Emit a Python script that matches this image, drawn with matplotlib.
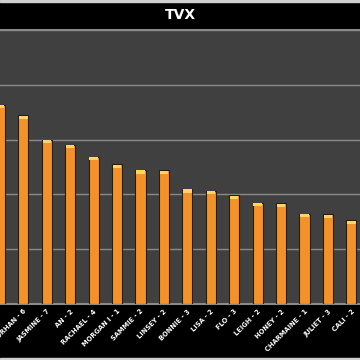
import numpy as np
import matplotlib.pyplot as plt
from matplotlib.patches import Rectangle

# datos (escala en unidades de rejilla x100)
names = ['', 'ORHAN - 6', 'JASMINE - 7', 'AN - 2', 'RACHAEL - 4', 'MORGAN I - 1',
         'SAMMIE - 2', 'LINSEY - 2', 'BONNIE - 3', 'LISA - 2', 'FLO - 3',
         'LEIGH - 2', 'HONEY - 2', 'CHARMAINE - 1', 'JULIET - 3', 'CALI - 2']
values = [364, 344, 300, 291, 269, 255, 245, 244, 210, 207, 198, 185, 184, 165, 164, 153]

fig = plt.figure(figsize=(3.6, 3.6), dpi=100)
fig.patch.set_facecolor('black')

# franjas claras arriba y abajo
fig.patches.append(Rectangle((0, 1 - 1.5/360), 1, 1.5/360, transform=fig.transFigure,
                             color='#d0d0d0', zorder=0))
fig.patches.append(Rectangle((0, 0), 1, 2/360, transform=fig.transFigure,
                             color='#d0d0d0', zorder=0))

ax = fig.add_axes([0, 56/360, 1, 274/360])
ax.set_facecolor('#404040')

x = np.arange(len(values))
ax.bar(x, values, width=0.43, color='#f4922a', edgecolor='#2a1c0a', linewidth=0.8, zorder=3)
# brillo en la parte de arriba
ax.bar(x, [6]*len(values), bottom=np.array(values) - 7, width=0.36,
       color='#ffd466', linewidth=0, zorder=4)

ax.set_xlim(0.0213, 15.37)
ax.set_ylim(0, 500)
ax.set_yticks([100, 200, 300, 400, 500])
ax.yaxis.grid(True, color='#8a8a8a', linewidth=1)
ax.set_axisbelow(True)
ax.tick_params(axis='y', left=False, labelleft=False)
ax.tick_params(axis='x', length=0, pad=3)
ax.set_xticks(x)
ax.set_xticklabels(names, rotation=45, ha='right', rotation_mode='anchor',
                   color='white', fontsize=4.8, fontweight='bold')

for s in ['left', 'right']:
    ax.spines[s].set_visible(False)
ax.spines['top'].set_color('#8a8a8a')
ax.spines['top'].set_linewidth(1.5)
ax.spines['bottom'].set_color('#8a8a8a')
ax.spines['bottom'].set_linewidth(1.5)

fig.text(0.5, 1 - 15/360, 'TVX', color='white', fontsize=10, fontweight='bold',
         ha='center', va='center')

fig.savefig('out.png', dpi=100, facecolor='black')
